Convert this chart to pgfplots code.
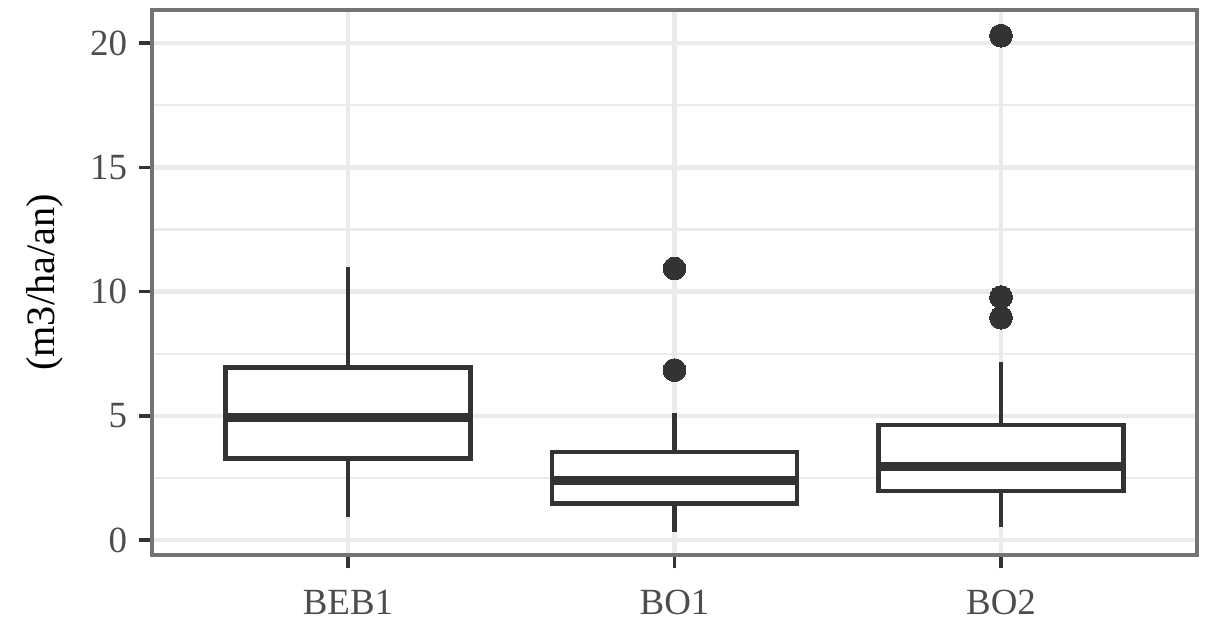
\documentclass[border=0pt]{standalone}
\usepackage{fontspec}
\setmainfont{Liberation Serif}
\usepackage{pgfplots}
\pgfplotsset{compat=1.18}
\usepgfplotslibrary{statistics}
\definecolor{dk}{HTML}{333333}
\definecolor{gridc}{HTML}{EBEBEB}
\definecolor{tickc}{HTML}{4D4D4D}
\definecolor{bord}{HTML}{737373}
\begin{document}
\begin{tikzpicture}
\begin{axis}[name=ax, scale only axis, width=311.2pt, height=162.3pt,
  xmin=0.4, xmax=3.6, ymin=-0.6, ymax=21.33,
  xtick={1,2,3}, xticklabels={BEB1,BO1,BO2},
  ytick={0,5,10,15,20}, minor ytick={2.5,7.5,12.5,17.5},
  grid=both, major grid style={gridc, line width=1.3pt},
  minor grid style={gridc, line width=0.7pt},
  axis line style={bord, line width=1.1pt},
  tick align=outside, major tick length=3.9pt, minor tick length=0pt,
  tick style={dk, line width=1.1pt},
  xtick pos=left, ytick pos=left,
  /pgf/number format/assume math mode=true,
  ticklabel style={font=\fontsize{11}{13}\selectfont, text=tickc},
  xticklabel style={yshift=-3pt},
  boxplot/draw direction=y,
  ylabel={(m3/ha/an)},
  every axis y label/.style={at={(rel axis cs:-0.103,0.5)}, rotate=90, anchor=center, font=\fontsize{12}{14}\selectfont},
]
% BEB1
\addplot[boxplot prepared={draw position=1, lower whisker=0.93, lower quartile=3.28,
  median=4.95, upper quartile=6.95, upper whisker=10.97, box extend=0.75, whisker extend=0},
  draw=dk, line width=1.35pt, fill=white, boxplot/every median/.style={line width=2.7pt}]
  coordinates {};
% BO1
\addplot[boxplot prepared={draw position=2, lower whisker=0.33, lower quartile=1.48,
  median=2.39, upper quartile=3.55, upper whisker=5.1, box extend=0.75, whisker extend=0},
  draw=dk, line width=1.35pt, fill=white, boxplot/every median/.style={line width=2.7pt},
  mark=*, mark size=3.4pt, mark options={solid, fill=dk, draw=dk, line width=0pt}]
  table[row sep=\\, y index=0, header=false] {10.93\\ 6.84\\};
% BO2
\addplot[boxplot prepared={draw position=3, lower whisker=0.52, lower quartile=1.98,
  median=2.96, upper quartile=4.64, upper whisker=7.15, box extend=0.75, whisker extend=0},
  draw=dk, line width=1.35pt, fill=white, boxplot/every median/.style={line width=2.7pt},
  mark=*, mark size=3.4pt, mark options={solid, fill=dk, draw=dk, line width=0pt}]
  table[row sep=\\, y index=0, header=false] {20.3\\ 9.78\\ 8.95\\};
\end{axis}
\path[use as bounding box] ([xshift=-45.3pt,yshift=-19.7pt]ax.south west) rectangle ([xshift=3.6pt,yshift=3pt]ax.north east);
\end{tikzpicture}
\end{document}
